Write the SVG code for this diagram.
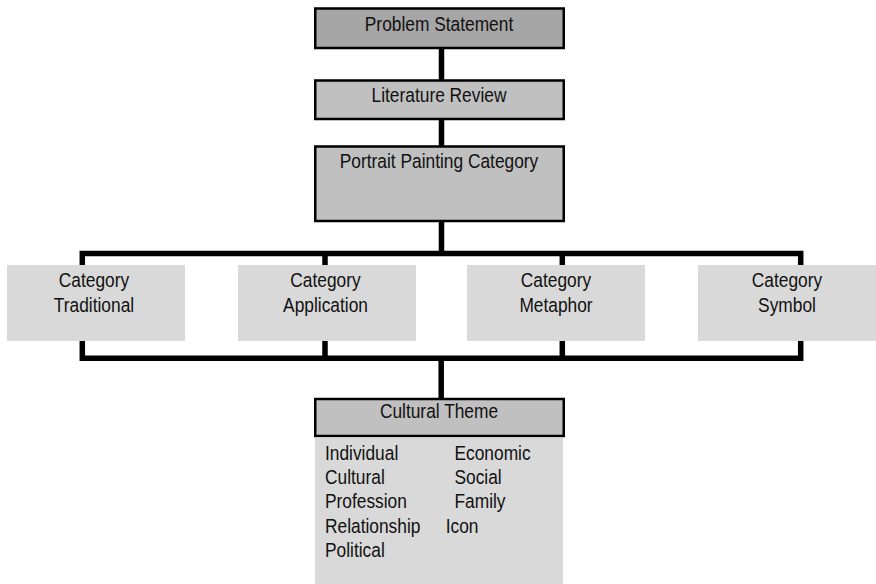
<svg xmlns="http://www.w3.org/2000/svg" width="876" height="584" viewBox="0 0 876 584">
  <style>
    .t { font-family: "Liberation Sans", Arial, sans-serif; font-size: 19.5px; fill: #111; }
    .c { text-anchor: middle; }
    .dark { fill: #a6a6a6; stroke: #000; stroke-width: 2.5; }
    .mid { fill: #c0c0c0; stroke: #000; stroke-width: 2.5; }
    .light { fill: #d9d9d9; stroke: none; }
    .conn { fill: none; stroke: #000; stroke-width: 5.5; stroke-linejoin: miter; stroke-linecap: butt; }
  </style>
  <rect width="876" height="584" fill="#fff"/>

  <g id="connectors">
    <line class="conn" x1="441.5" y1="49" x2="441.5" y2="80"/>
    <line class="conn" x1="441.5" y1="120" x2="441.5" y2="146"/>
    <line class="conn" x1="441.5" y1="222" x2="441.5" y2="253.5"/>
    <path class="conn" d="M82.3,265 V253.5 H800.7 V265"/>
    <line class="conn" x1="325" y1="253.5" x2="325" y2="265"/>
    <line class="conn" x1="562.3" y1="253.5" x2="562.3" y2="265"/>
    <path class="conn" d="M82.3,341 V358.3 H800.7 V341"/>
    <line class="conn" x1="325" y1="341" x2="325" y2="358.3"/>
    <line class="conn" x1="562.3" y1="341" x2="562.3" y2="358.3"/>
    <line class="conn" x1="441.2" y1="358.3" x2="441.2" y2="398"/>
  </g>

  <g id="problem-statement">
    <rect class="dark" x="315.25" y="8.5" width="248.5" height="39.5"/>
    <text class="t c" transform="translate(439,30.7) scale(0.89,1)">Problem Statement</text>
  </g>

  <g id="literature-review">
    <rect class="mid" x="315.25" y="80.5" width="248.5" height="38.5"/>
    <text class="t c" transform="translate(439,101.7) scale(0.89,1)">Literature Review</text>
  </g>

  <g id="portrait-painting-category">
    <rect class="mid" x="315.25" y="146.5" width="248.5" height="74.5"/>
    <text class="t c" transform="translate(439,168.3) scale(0.89,1)">Portrait Painting Category</text>
  </g>

  <g id="category-traditional">
    <rect class="light" x="7" y="265" width="178" height="76"/>
    <text class="t c" transform="translate(94,286.7) scale(0.89,1)">Category</text>
    <text class="t c" transform="translate(94,311.7) scale(0.89,1)">Traditional</text>
  </g>

  <g id="category-application">
    <rect class="light" x="238" y="265" width="178" height="76"/>
    <text class="t c" transform="translate(325.5,286.7) scale(0.89,1)">Category</text>
    <text class="t c" transform="translate(325.5,311.7) scale(0.89,1)">Application</text>
  </g>

  <g id="category-metaphor">
    <rect class="light" x="467" y="265" width="178" height="76"/>
    <text class="t c" transform="translate(556,286.7) scale(0.89,1)">Category</text>
    <text class="t c" transform="translate(556,311.7) scale(0.89,1)">Metaphor</text>
  </g>

  <g id="category-symbol">
    <rect class="light" x="698" y="265" width="178" height="76"/>
    <text class="t c" transform="translate(787,286.7) scale(0.89,1)">Category</text>
    <text class="t c" transform="translate(787,311.7) scale(0.89,1)">Symbol</text>
  </g>

  <g id="cultural-theme">
    <rect class="mid" x="315.25" y="399" width="248.5" height="37"/>
    <text class="t c" transform="translate(439,418.3) scale(0.89,1)">Cultural Theme</text>
    <rect class="light" x="315" y="437.5" width="248" height="146.5"/>
    <text class="t" transform="translate(325,460) scale(0.89,1)">Individual</text>
    <text class="t" transform="translate(325,484.2) scale(0.89,1)">Cultural</text>
    <text class="t" transform="translate(325,508.4) scale(0.89,1)">Profession</text>
    <text class="t" transform="translate(325,532.6) scale(0.89,1)">Relationship</text>
    <text class="t" transform="translate(325,556.8) scale(0.89,1)">Political</text>
    <text class="t" transform="translate(454.5,460) scale(0.89,1)">Economic</text>
    <text class="t" transform="translate(454.5,484.2) scale(0.89,1)">Social</text>
    <text class="t" transform="translate(454.5,508.4) scale(0.89,1)">Family</text>
    <text class="t" transform="translate(445.7,532.6) scale(0.89,1)">Icon</text>
  </g>
</svg>
